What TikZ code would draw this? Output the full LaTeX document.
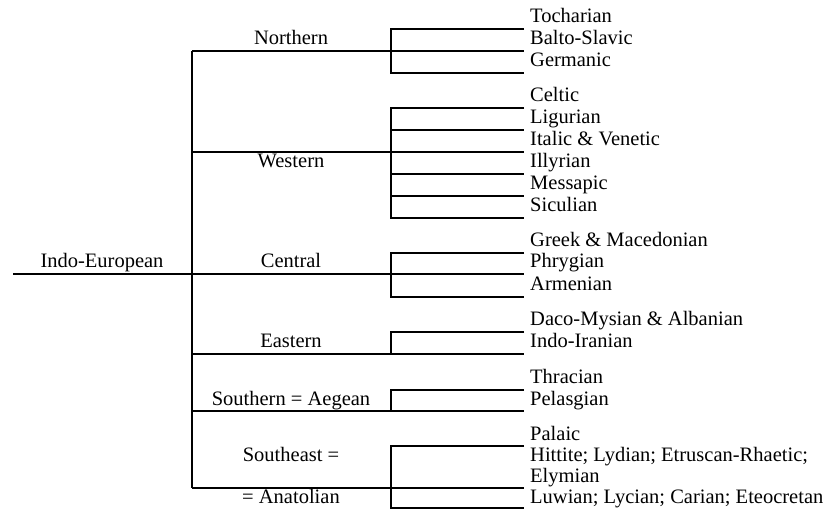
\documentclass[tikz,border=0pt]{standalone}
\usepackage{fontspec}
\setmainfont{Liberation Serif}
\begin{document}
\begin{tikzpicture}[x=1pt,y=-1pt]
\tikzset{
  txt/.style={font=\fontsize{20.5}{22}\selectfont, inner sep=0pt},
  leaf/.style={txt, anchor=base west},
  grp/.style={txt, anchor=base},
  rule/.style={line width=1.3pt, line join=miter},
}
\useasboundingbox (0,0) rectangle (824,510);

% root
\node[grp] (ie) at (102,268) {Indo-European};
\coordinate (ie-w) at (13,274);

% branches: hub on the main trunk, fork at the bracket, bracket top and bottom
\foreach \g/\y/\t/\b in {N/51/29/73, W/152/108/218, C/274/253/297,
                         E/354/332/354, S/411/390/411, A/488/446/508} {
  \coordinate (\g-hub) at (192,\y);
  \coordinate (\g-fork) at (391,\y);
  \coordinate (\g-tip) at (524,\y);
  \coordinate (\g-top) at (391,\t);
  \coordinate (\g-topend) at (524,\t);
  \coordinate (\g-bot) at (391,\b);
  \coordinate (\g-botend) at (524,\b);
  \draw[rule] (\g-topend) -- (\g-top) -- (\g-bot) -- (\g-botend);
  \draw[rule] (\g-hub) -- (\g-fork) -- (\g-tip);
}
% extra dividers in the Western bracket
\foreach \k/\y in {a/130, b/174, c/196} {
  \coordinate (W-\k) at (391,\y);
  \coordinate (W-\k end) at (524,\y);
  \draw[rule] (W-\k) -- (W-\k end);
}
% trunk and root stem
\draw[rule] (N-hub) -- (A-hub);
\draw[rule] (ie-w) -- (C-hub);

% group labels
\node[grp] (north) at (291,45) {Northern};
\node[grp] (west) at (291,168) {Western};
\node[grp] (central) at (291,268) {Central};
\node[grp] (east) at (291,348) {Eastern};
\node[grp] (south) at (291,405) {Southern = Aegean};
\node[grp] (southeast) at (291,461) {Southeast =};
\node[grp] (anatolian) at (291,503) {= Anatolian};

% leaf languages
\node[leaf] (toch) at (530,23) {Tocharian};
\node[leaf] (balto) at (530,45) {Balto-Slavic};
\node[leaf] (germ) at (530,67) {Germanic};
\node[leaf] (celt) at (530,102) {Celtic};
\node[leaf] (lig) at (530,124) {Ligurian};
\node[leaf] (ital) at (530,146) {Italic \& Venetic};
\node[leaf] (ill) at (530,168) {Illyrian};
\node[leaf] (mess) at (530,190) {Messapic};
\node[leaf] (sic) at (530,212) {Siculian};
\node[leaf] (greek) at (530,247) {Greek \& Macedonian};
\node[leaf] (phryg) at (530,268) {Phrygian};
\node[leaf] (arm) at (530,291) {Armenian};
\node[leaf] (daco) at (530,326) {Daco-Mysian \& Albanian};
\node[leaf] (indir) at (530,347) {Indo-Iranian};
\node[leaf] (thrac) at (530,383) {Thracian};
\node[leaf] (pelas) at (530,405) {Pelasgian};
\node[leaf] (pala) at (530,440) {Palaic};
\node[leaf] (hitt) at (530,461) {Hittite; Lydian; Etruscan-Rhaetic;};
\node[leaf] (elym) at (530,482) {Elymian};
\node[leaf] (luw) at (530,503) {Luwian; Lycian; Carian; Eteocretan};
\end{tikzpicture}
\end{document}
